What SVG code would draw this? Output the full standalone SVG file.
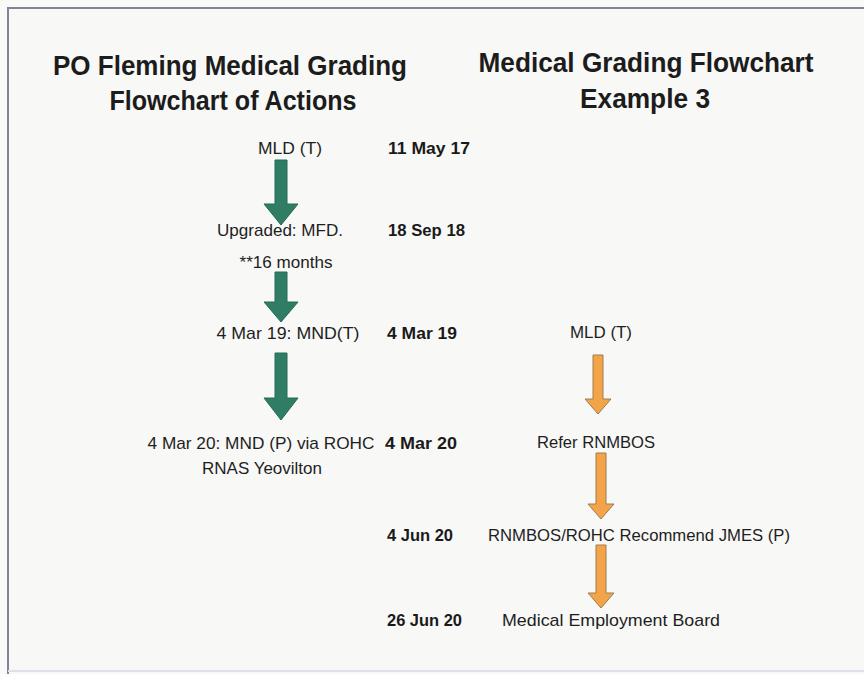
<svg xmlns="http://www.w3.org/2000/svg" width="864" height="674" viewBox="0 0 864 674">
<style>
.title{font-family:"Liberation Sans",Arial,sans-serif;font-weight:bold;font-size:27px;fill:#1c1c1c;text-anchor:middle}
.lbl{font-family:"Liberation Sans",Arial,sans-serif;font-size:17px;fill:#1e1e1e;text-anchor:middle}
.date{font-family:"Liberation Sans",Arial,sans-serif;font-weight:bold;font-size:16.5px;fill:#1a1a1a;text-anchor:start}
.green{fill:#2f7d64;stroke:#276a55;stroke-width:1}
.orange{fill:#f3a448;stroke:#9c7c55;stroke-width:1}
</style>
<rect x="0" y="0" width="864" height="674" fill="#fbf8f8"/>
<rect x="8" y="8" width="860" height="670" fill="#f8f8f7"/>
<line x1="7" y1="8" x2="864" y2="8" stroke="#7f8597" stroke-width="2"/>
<line x1="8" y1="7" x2="8" y2="674" stroke="#7f8597" stroke-width="2"/>
<line x1="8" y1="671" x2="864" y2="671" stroke="#dfe1ea" stroke-width="2"/>

<g id="title-left">
<text class="title" x="230" y="75" textLength="354" lengthAdjust="spacingAndGlyphs">PO Fleming Medical Grading</text>
<text class="title" x="233" y="110" textLength="247" lengthAdjust="spacingAndGlyphs">Flowchart of Actions</text>
</g>
<g id="title-right">
<text class="title" x="646" y="72" textLength="335" lengthAdjust="spacingAndGlyphs">Medical Grading Flowchart</text>
<text class="title" x="645" y="108" textLength="130" lengthAdjust="spacingAndGlyphs">Example 3</text>
</g>

<g id="node-l1"><text class="lbl" x="290" y="154" textLength="64" lengthAdjust="spacingAndGlyphs">MLD (T)</text></g>
<g id="node-l2">
<text class="lbl" x="280" y="236" textLength="126" lengthAdjust="spacingAndGlyphs">Upgraded: MFD.</text>
<text class="lbl" x="286" y="268" textLength="93" lengthAdjust="spacingAndGlyphs">**16 months</text>
</g>
<g id="node-l3"><text class="lbl" x="288" y="339" textLength="143" lengthAdjust="spacingAndGlyphs">4 Mar 19: MND(T)</text></g>
<g id="node-l4">
<text class="lbl" x="261" y="449" textLength="227" lengthAdjust="spacingAndGlyphs">4 Mar 20: MND (P) via ROHC</text>
<text class="lbl" x="262" y="474" textLength="120" lengthAdjust="spacingAndGlyphs">RNAS Yeovilton</text>
</g>

<g id="dates">
<text class="date" x="388" y="154" textLength="82" lengthAdjust="spacingAndGlyphs">11 May 17</text>
<text class="date" x="388" y="236" textLength="77" lengthAdjust="spacingAndGlyphs">18 Sep 18</text>
<text class="date" x="387" y="339" textLength="70" lengthAdjust="spacingAndGlyphs">4 Mar 19</text>
<text class="date" x="385" y="449" textLength="72" lengthAdjust="spacingAndGlyphs">4 Mar 20</text>
<text class="date" x="387" y="541" textLength="66" lengthAdjust="spacingAndGlyphs">4 Jun 20</text>
<text class="date" x="387" y="626" textLength="75" lengthAdjust="spacingAndGlyphs">26 Jun 20</text>
</g>

<g id="node-r1"><text class="lbl" x="601" y="338" textLength="62" lengthAdjust="spacingAndGlyphs">MLD (T)</text></g>
<g id="node-r2"><text class="lbl" x="596" y="448" textLength="118" lengthAdjust="spacingAndGlyphs">Refer RNMBOS</text></g>
<g id="node-r3"><text class="lbl" x="639" y="541" textLength="302" lengthAdjust="spacingAndGlyphs">RNMBOS/ROHC Recommend JMES (P)</text></g>
<g id="node-r4"><text class="lbl" x="611" y="626" textLength="218" lengthAdjust="spacingAndGlyphs">Medical Employment Board</text></g>

<g id="connectors">
<path class="green" d="M275,160 H287 V204 H298 L281,225 L264,204 H275 Z"/>
<path class="green" d="M275,272 H287 V302 H298 L281,322 L264,302 H275 Z"/>
<path class="green" d="M275,353 H287 V398 H298 L281,420 L264,398 H275 Z"/>
<path class="orange" d="M593,355 H603 V399 H611 L598,414 L585,399 H593 Z"/>
<path class="orange" d="M596,453 H606 V504 H614 L601,519 L588,504 H596 Z"/>
<path class="orange" d="M596,545 H606 V593 H614 L601,608 L588,593 H596 Z"/>
</g>
</svg>
